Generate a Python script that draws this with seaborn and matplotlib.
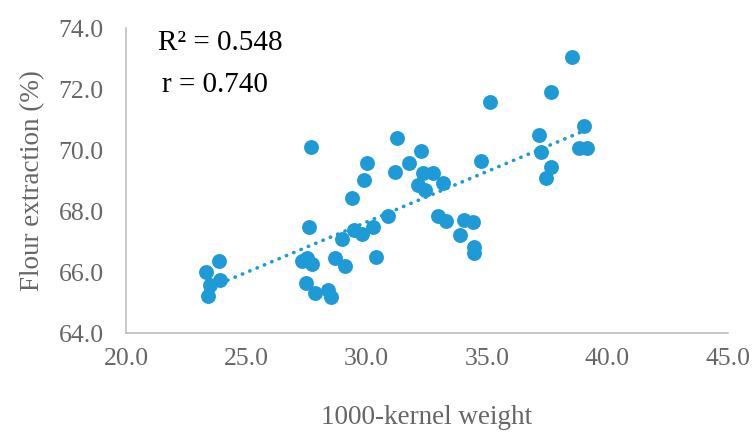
import numpy as np
import pandas as pd
import matplotlib
matplotlib.use('Agg')
import matplotlib.pyplot as plt
import seaborn as sns

# values
kernel_weight = [23.87, 23.31, 23.90, 23.49, 23.42,
                 27.59, 27.30, 27.50, 27.71, 27.48, 27.85, 28.40, 28.50,
                 28.68, 29.09, 28.96, 29.47, 29.79, 30.27, 30.37, 30.87,
                 27.68, 30.00, 29.88, 29.39, 31.27, 31.17,
                 32.25, 31.77, 32.35, 32.76, 32.14, 32.42, 33.15, 34.74,
                 32.97, 33.29, 34.05, 34.40, 33.87, 34.45, 34.45,
                 38.53, 37.65, 37.16, 39.03, 37.24, 38.81, 39.16, 37.65, 37.44,
                 35.10]
flour_extraction = [66.37, 66.01, 65.74, 65.57, 65.21,
                    67.47, 66.37, 66.45, 66.26, 65.65, 65.30, 65.41, 65.19,
                    66.47, 66.20, 67.10, 67.38, 67.25, 67.47, 66.48, 67.84,
                    70.09, 69.58, 69.01, 68.44, 70.38, 69.27,
                    69.98, 69.58, 69.24, 69.26, 68.85, 68.69, 68.93, 69.64,
                    67.84, 67.68, 67.70, 67.65, 67.21, 66.83, 66.61,
                    73.06, 71.89, 70.51, 70.79, 69.94, 70.06, 70.06, 69.43, 69.07,
                    71.57]

df = pd.DataFrame({'kernel_weight': kernel_weight, 'flour_extraction': flour_extraction})

blue = '#1e9bd7'
grey_text = '#666666'

sns.set_style('white')
plt.rcParams['font.family'] = ['Liberation Serif', 'DejaVu Serif']

fig, ax = plt.subplots(figsize=(7.52, 4.32), dpi=100)
fig.subplots_adjust(left=0.1676, right=0.968, top=0.935, bottom=0.229)

sns.regplot(x='kernel_weight', y='flour_extraction', data=df, ax=ax, ci=None, truncate=True,
            scatter_kws={'color': blue, 's': 115, 'alpha': 1, 'linewidths': 0},
            line_kws={'color': blue, 'linewidth': 2.6, 'linestyle': (0, (0.1, 2.1)),
                      'dash_capstyle': 'round'})

ax.set_xlim(20, 45)
ax.set_ylim(64, 74)
ax.set_xticks(np.arange(20, 46, 5))
ax.set_yticks(np.arange(64, 75, 2))
ax.xaxis.set_major_formatter(matplotlib.ticker.FormatStrFormatter('%.1f'))
ax.yaxis.set_major_formatter(matplotlib.ticker.FormatStrFormatter('%.1f'))
ax.tick_params(axis='both', length=0, labelsize=18.5, labelcolor=grey_text)
ax.tick_params(axis='x', pad=11)
ax.tick_params(axis='y', pad=16)

for side in ['top', 'right']:
    ax.spines[side].set_visible(False)
for side in ['left', 'bottom']:
    ax.spines[side].set_color('#bfbfbf')
    ax.spines[side].set_linewidth(1.2)

ax.set_xlabel('1000-kernel weight', fontsize=19.5, color=grey_text, labelpad=25)
ax.set_ylabel('Flour extraction (%)', fontsize=19.5, color=grey_text, labelpad=10)

ax.text(21.33, 73.5, 'R² = 0.548', fontsize=21, color='black', ha='left', va='center')
ax.text(21.5, 72.13, 'r = 0.740', fontsize=21, color='black', ha='left', va='center')

fig.savefig('out.png', dpi=100)
